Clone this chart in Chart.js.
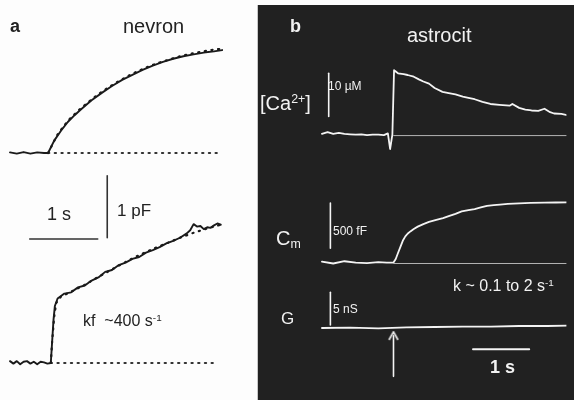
<!DOCTYPE html>
<html lang="en">
<head>
  <meta charset="UTF-8">
  <title>nevron / astrocit</title>
  <script src="https://cdn.jsdelivr.net/npm/chart.js"></script>
  <style>
    html, body { margin: 0; padding: 0; background: #fdfdfd; }
    body { width: 574px; height: 400px; position: relative; overflow: hidden;
           font-family: "Liberation Sans", Arial, sans-serif; }
    .panel { position: absolute; }
    #left { left: 0; top: 0; width: 257px; height: 400px; }
    #right { left: 257px; top: 5px; width: 317px; height: 395px; background: #212121;
             border-left: 1px solid #c8c8c8; box-sizing: border-box; }
    .lbl { position: absolute; line-height: 1; white-space: nowrap; }
    .w { color: #f2f2f2; }
    .k { color: #222; }
    sup { font-size: 62%; vertical-align: 0.55em; line-height: 0; }
    sub { font-size: 62%; vertical-align: -0.25em; line-height: 0; }
  </style>
</head>
<body>
  <div class="panel" id="left"><canvas id="chartA" width="257" height="400"></canvas></div>
  <div class="panel" id="right"><canvas id="chartB" width="316" height="395"></canvas></div>

  <div class="lbl k" style="left:10px;top:17px;font-size:18px;font-weight:bold">a</div>
  <div class="lbl k" style="left:123px;top:16px;font-size:20px">nevron</div>
  <div class="lbl k" style="left:47px;top:205px;font-size:18px">1 s</div>
  <div class="lbl k" style="left:117px;top:202px;font-size:17px">1 pF</div>
  <div class="lbl k" style="left:83px;top:313px;font-size:16px">kf&nbsp; ~400 s<sup>-1</sup></div>

  <div class="lbl w" style="left:290px;top:17px;font-size:18px;font-weight:bold">b</div>
  <div class="lbl w" style="left:407px;top:25px;font-size:20px">astrocit</div>
  <div class="lbl w" style="left:260px;top:93px;font-size:20px">[Ca<sup>2+</sup>]</div>
  <div class="lbl w" style="left:328px;top:80px;font-size:12px">10 µM</div>
  <div class="lbl w" style="left:276px;top:228px;font-size:20px">C<sub>m</sub></div>
  <div class="lbl w" style="left:333px;top:225px;font-size:12px">500 fF</div>
  <div class="lbl w" style="left:453px;top:278px;font-size:16px">k ~ 0.1 to 2 s<sup>-1</sup></div>
  <div class="lbl w" style="left:281px;top:310px;font-size:17px">G</div>
  <div class="lbl w" style="left:333px;top:303px;font-size:12px">5 nS</div>
  <div class="lbl w" style="left:490px;top:358px;font-size:18px;font-weight:bold">1 s</div>

  <script>
    // ---- panel a: neuron capacitance (time in s, values in pF above baseline)
    const neuronTopTime = [0, 0.1, 0.2, 0.3, 0.4, 0.5, 0.56, 0.65, 0.75, 0.85, 0.95, 1.05, 1.2, 1.35,
                           1.5, 1.65, 1.8, 1.95, 2.1, 2.25, 2.4, 2.55, 2.7, 2.85, 3.0, 3.12];
    const neuronTopCm   = [0.01, -0.01, 0.015, -0.01, 0.01, 0, 0, 0.2, 0.36, 0.5, 0.61, 0.71, 0.85, 0.97,
                           1.08, 1.18, 1.26, 1.34, 1.41, 1.47, 1.52, 1.56, 1.59, 1.62, 1.64, 1.66];
    const neuronTopFitTime = [0.56, 0.7, 0.85, 1.0, 1.15, 1.3, 1.45, 1.6, 1.75, 1.9, 2.05, 2.2, 2.35,
                              2.5, 2.65, 2.8, 2.95, 3.1];
    const neuronTopFit     = [0, 0.3, 0.52, 0.68, 0.82, 0.95, 1.06, 1.16, 1.25, 1.33, 1.4, 1.46, 1.51,
                              1.56, 1.6, 1.63, 1.66, 1.68];

    const neuronBotTime = [0, 0.05, 0.1, 0.15, 0.2, 0.25, 0.3, 0.35, 0.4, 0.45, 0.5, 0.55, 0.6, 0.62,
                           0.64, 0.66, 0.7, 0.75, 0.8, 0.9, 1.0, 1.1, 1.2, 1.3, 1.4, 1.5, 1.6, 1.7,
                           1.8, 1.9, 2.0, 2.1, 2.2, 2.3, 2.4, 2.5, 2.6, 2.65, 2.7, 2.75, 2.8, 2.85,
                           2.9, 2.95, 3.0, 3.05, 3.1];
    const neuronBotCm   = [0.03, -0.01, 0.03, -0.02, 0.02, 0.03, -0.01, 0.02, -0.02, 0.02, 0.01, -0.01,
                           0.0, 0.35, 0.7, 0.92, 1.04, 1.08, 1.12, 1.14, 1.22, 1.25, 1.33, 1.38, 1.47,
                           1.5, 1.58, 1.62, 1.68, 1.71, 1.78, 1.82, 1.87, 1.93, 1.97, 2.02, 2.09, 2.14,
                           2.24, 2.2, 2.21, 2.16, 2.19, 2.18, 2.22, 2.25, 2.23];
    const neuronBotFitTime = [0.6, 0.62, 0.65, 0.68, 0.75, 0.9, 1.1, 1.3, 1.5, 1.7, 1.9, 2.1, 2.3,
                              2.5, 2.7, 2.9, 3.1];
    const neuronBotFit     = [0, 0.35, 0.75, 0.97, 1.07, 1.15, 1.26, 1.39, 1.51, 1.63, 1.74, 1.84,
                              1.93, 2.02, 2.1, 2.17, 2.23];

    // ---- panel b: astrocyte (time in s)
    const caTime = [0, 0.1, 0.2, 0.3, 0.4, 0.5, 0.6, 0.7, 0.8, 0.9, 1.0, 1.1, 1.17, 1.21, 1.25, 1.28,
                    1.31, 1.35, 1.45, 1.52, 1.63, 1.72, 1.8, 1.9, 2.0, 2.14, 2.25, 2.37, 2.5, 2.6,
                    2.71, 2.85, 2.99, 3.15, 3.33, 3.38, 3.5, 3.61, 3.72, 3.84, 3.95, 4.05, 4.12,
                    4.25, 4.36];
    const caUM   = [0.2, 0.6, 0.2, 0.4, 0.2, 0.1, 0, 0.1, -0.1, 0, 0, -0.1, 0.3, -3.3, 0, 14.9,
                    14.6, 14.2, 14.0, 13.8, 13.4, 12.8, 12.3, 11.8, 10.8, 9.9, 9.6, 9.3, 8.8, 8.5,
                    8.2, 7.6, 7.1, 6.9, 6.7, 7.1, 6.2, 5.8, 5.6, 5.5, 6.0, 5.2, 4.9, 4.8, 4.5];

    const cmTime = [0, 0.2, 0.4, 0.6, 0.8, 1.0, 1.15, 1.27, 1.31, 1.35, 1.4, 1.44, 1.48, 1.52, 1.57,
                    1.63, 1.7, 1.8, 1.9, 2.03, 2.15, 2.25, 2.37, 2.48, 2.6, 2.71, 2.82, 2.93, 3.05,
                    3.16, 3.3, 3.5, 3.7, 3.95, 4.15, 4.36];
    const cmFF   = [10, -10, 15, 0, -5, 5, 0, 0, 40, 106, 185, 248, 290, 319, 345, 372, 398, 426,
                    450, 472, 492, 514, 540, 567, 580, 592, 610, 628, 636, 642, 650, 656, 660, 663,
                    665, 667];

    const gTime = [0, 0.5, 1.0, 1.5, 2.0, 2.5, 3.0, 3.5, 4.0, 4.36];
    const gNS   = [0, 0.05, -0.05, 0.1, 0.15, 0.2, 0.2, 0.3, 0.3, 0.35];

    const stimTime = 1.27;     // arrow / onset in panel b
    const traceEndB = 4.36;

    // scale bar sizes
    const barA = { s: 1, pF: 1 };
    const barB = { uM: 10, fF: 500, nS: 5, s: 1 };

    const pts = (ts, vs) => ts.map((t, i) => ({ x: t, y: vs[i] }));
    const seg = (x0, y0, x1, y1) => [{ x: x0, y: y0 }, { x: x1, y: y1 }];

    const line = (data, color, width, yAxisID, extra) => Object.assign({
      data, borderColor: color, borderWidth: width, pointRadius: 0, yAxisID,
      tension: 0, fill: false, borderCapStyle: 'round', borderJoinStyle: 'round'
    }, extra || {});

    const baseOpts = (scales) => ({
      responsive: false,
      animation: false,
      events: [],
      layout: { padding: 0 },
      plugins: { legend: { display: false }, tooltip: { enabled: false } },
      scales
    });
    const lin = (min, max) => ({ type: 'linear', display: false, min, max });

    // panel a
    const dotted = { borderDash: [1.2, 5.5], borderCapStyle: 'round', borderWidth: 2.2 };
    new Chart(document.getElementById('chartA'), {
      type: 'line',
      data: { datasets: [
        line(pts(neuronTopTime, neuronTopCm), '#1a1a1a', 1.9, 'yTop'),
        line(pts(neuronTopFitTime, neuronTopFit), '#1a1a1a', 2.2, 'yTop', dotted),
        line(seg(0.56, 0, 3.05, 0), '#333', 2.2, 'yTop', dotted),
        line(pts(neuronBotTime, neuronBotCm), '#1a1a1a', 1.9, 'yBot'),
        line(pts(neuronBotFitTime, neuronBotFit), '#1a1a1a', 2.2, 'yBot', dotted),
        line(seg(0.6, 0, 3.05, 0), '#333', 2.2, 'yBot', dotted),
        // scale bars
        line(seg(0.29, 2.0, 0.29 + barA.s, 2.0), '#333', 1.6, 'yBot'),
        line(seg(1.43, 2.02, 1.43, 2.02 + barA.pF), '#333', 1.6, 'yBot')
      ] },
      options: baseOpts({
        x: lin(-10 / 68, 247 / 68),
        yTop: lin(-247 / 62, 153 / 62),
        yBot: lin(-37 / 62, 363 / 62)
      })
    });

    // arrow head for the stimulus marker
    const head = document.createElement('canvas');
    head.width = 12; head.height = 10;
    const hc = head.getContext('2d');
    hc.strokeStyle = '#f2f2f2'; hc.lineWidth = 1.6;
    hc.beginPath(); hc.moveTo(1.5, 9); hc.lineTo(6, 1); hc.lineTo(10.5, 9); hc.stroke();

    // panel b
    new Chart(document.getElementById('chartB'), {
      type: 'line',
      data: { datasets: [
        line(seg(stimTime, -0.2, traceEndB, -0.2), '#b5b5b5', 1, 'yCa'),
        line(seg(stimTime, -10, traceEndB, -10), '#b5b5b5', 1, 'yCm'),
        line(pts(caTime, caUM), '#f4f4f4', 1.8, 'yCa'),
        line(pts(cmTime, cmFF), '#f4f4f4', 1.8, 'yCm'),
        line(pts(gTime, gNS), '#f4f4f4', 1.8, 'yG'),
        // scale bars
        line(seg(0.12, 4.2, 0.12, 4.2 + barB.uM), '#f4f4f4', 1.6, 'yCa'),
        line(seg(0.15, 160, 0.15, 160 + barB.fF), '#f4f4f4', 1.6, 'yCm'),
        line(seg(0.15, 0.45, 0.15, 0.45 + barB.nS), '#f4f4f4', 1.6, 'yG'),
        line(seg(2.68, -3.25, 2.68 + barB.s, -3.25), '#f4f4f4', 1.8, 'yG'),
        // stimulus arrow
        line(seg(stimTime, -7.4, stimTime, -1.2), '#f4f4f4', 1.6, 'yG', {
          pointRadius: [0, 6], pointStyle: [false, head], pointRotation: 0
        })
      ] },
      options: baseOpts({
        x: lin(-59 / 59, 256 / 59),
        yCa: lin(-268 / 4.5, 127 / 4.5),
        yCm: lin(-135 / 0.094, 260 / 0.094),
        yG: lin(-67 / 6.8, 328 / 6.8)
      })
    });
  </script>
</body>
</html>
